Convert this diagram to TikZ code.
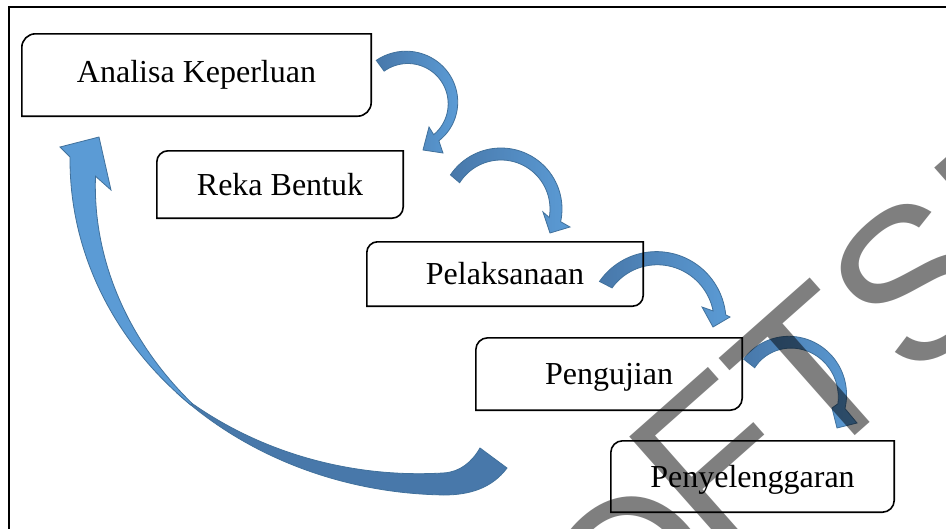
\documentclass[tikz,border=0pt]{standalone}
\usepackage{fontspec}
\setmainfont{Liberation Serif}
\newfontfamily\wmfont{Liberation Sans}
\definecolor{arlight}{RGB}{91,155,213}
\definecolor{ardark}{RGB}{72,120,170}
\definecolor{arline}{RGB}{65,113,156}
\tikzset{
  stage/.style={inner sep=0pt, font=\fontsize{32}{38}\selectfont, text height=21.2pt, text depth=0pt},
  boxline/.style={draw=black, line width=1.6pt},
  blockarrow/.style={draw=arline, line width=0.8pt, left color=ardark, right color=arlight},
  backribbon/.style={draw=arline, line width=0.8pt, fill=ardark},
  frontribbon/.style={draw=arline, line width=0.8pt, fill=arlight},
  wmark/.style={rotate=41.5, anchor=base west, inner sep=0pt, font=\wmfont\fontsize{215}{215}\selectfont, text=black, text opacity=0.5},
}
\newcommand\diagbox[2]{\draw[boxline] ([yshift=-#2]#1.north west) arc[start angle=180,end angle=90,radius=#2] -- (#1.north east) -- ([yshift=#2]#1.south east) arc[start angle=0,end angle=-90,radius=#2] -- (#1.south west) -- cycle;}
\begin{document}
\begin{tikzpicture}[x=1pt,y=-1pt]
\useasboundingbox (0,0) rectangle (946,528);
\clip (0,0) rectangle (946,528);
\fill[white] (0,0) rectangle (946,528);
\draw[line width=1.8pt] (9,7) rectangle (970,560);

% stages
\node[stage, minimum width=349pt, minimum height=82pt, text depth=7pt] (analisa) at (196.5,75) {Analisa Keperluan};
\node[stage, minimum width=246pt, minimum height=67pt] (reka) at (280,184.5) {Reka Bentuk};
\node[stage, minimum width=276pt, minimum height=64pt] (pelak) at (505,274) {Pelaksanaan};
\node[stage, minimum width=266pt, minimum height=72pt] (peng) at (609,374) {Pengujian};
\node[stage, minimum width=283pt, minimum height=71pt] (penyel) at (752.5,476.5) {Penyelenggaran};

% curved block arrows
\path[blockarrow]
  plot[variable=\t,domain=234:410,samples=50] ({408+(54-6*(\t-234)/176)*cos(\t)},{104+(54-6*(\t-234)/176)*sin(\t)})
  -- (443,153) -- (423,150) -- (429,127)
  -- plot[variable=\t,domain=410:234,samples=50] ({408+(40+0.6*(410-\t)/176)*cos(\t)},{104+(40+0.6*(410-\t)/176)*sin(\t)})
  -- cycle;
\path[blockarrow]
  plot[variable=\t,domain=214:372,samples=50] ({501+61*cos(\t)},{209+61*sin(\t)})
  -- (570,227) -- (550,233) -- (543,212)
  -- plot[variable=\t,domain=370:212.4,samples=50] ({501+49*cos(\t)},{209+49*sin(\t)})
  -- cycle;
\path[blockarrow]
  plot[variable=\t,domain=215:355,samples=50] ({656+(69+(\t-215)/140)*cos(\t)},{321+(69+(\t-215)/140)*sin(\t)})
  -- (730,317) -- (713,327) -- (702,307)
  -- plot[variable=\t,domain=350:217,samples=50] ({656+(58-3*(350-\t)/133)*cos(\t)},{321+(58-3*(350-\t)/133)*sin(\t)})
  -- cycle;
\path[blockarrow]
  plot[variable=\t,domain=218:375,samples=50] ({787+(55+5*(\t-218)/157)*cos(\t)},{393+(55+5*(\t-218)/157)*sin(\t)})
  -- (857,423) -- (837,428) -- (832,408)
  -- plot[variable=\t,domain=372:218,samples=50] ({787+(52-11*(372-\t)/154)*cos(\t)},{393+(52-11*(372-\t)/154)*sin(\t)})
  -- cycle;

% big return arrow
\path[backribbon] (507,468) .. controls (492,488) and (470,495) .. (443.4,495)
  -- plot[variable=\t,domain=91:136,samples=50] ({450+380*cos(\t)},{160+335*sin(\t)})
  -- plot[variable=\t,domain=136:91,samples=50] ({450+(380-(22-20*(\t-91)/42))*cos(\t)},{160+(335-(22-20*(\t-91)/42))*sin(\t)})
  .. controls (460,472) and (472,462) .. (480,448) -- cycle;
\path[frontribbon] plot[variable=\t,domain=133:180.5,samples=50] ({450+380*cos(\t)},{160+335*sin(\t)})
  -- (60,147) -- (99,137) -- (111,190)
  -- plot[variable=\t,domain=177:133,samples=50] ({450+(380-(2+23*(\t-133)/44))*cos(\t)},{160+(335-(2+23*(\t-133)/44))*sin(\t)})
  -- cycle;

% box outlines
\diagbox{analisa}{13.7pt}
\diagbox{reka}{11.2pt}
\diagbox{pelak}{10.7pt}
\diagbox{peng}{12pt}
\diagbox{penyel}{11.8pt}

% watermark
\node[wmark] (wmo) at (619.5,686) {O};
\node[wmark] (wmrest) at (714.8,560.1) {FTSM};
\end{tikzpicture}
\end{document}
